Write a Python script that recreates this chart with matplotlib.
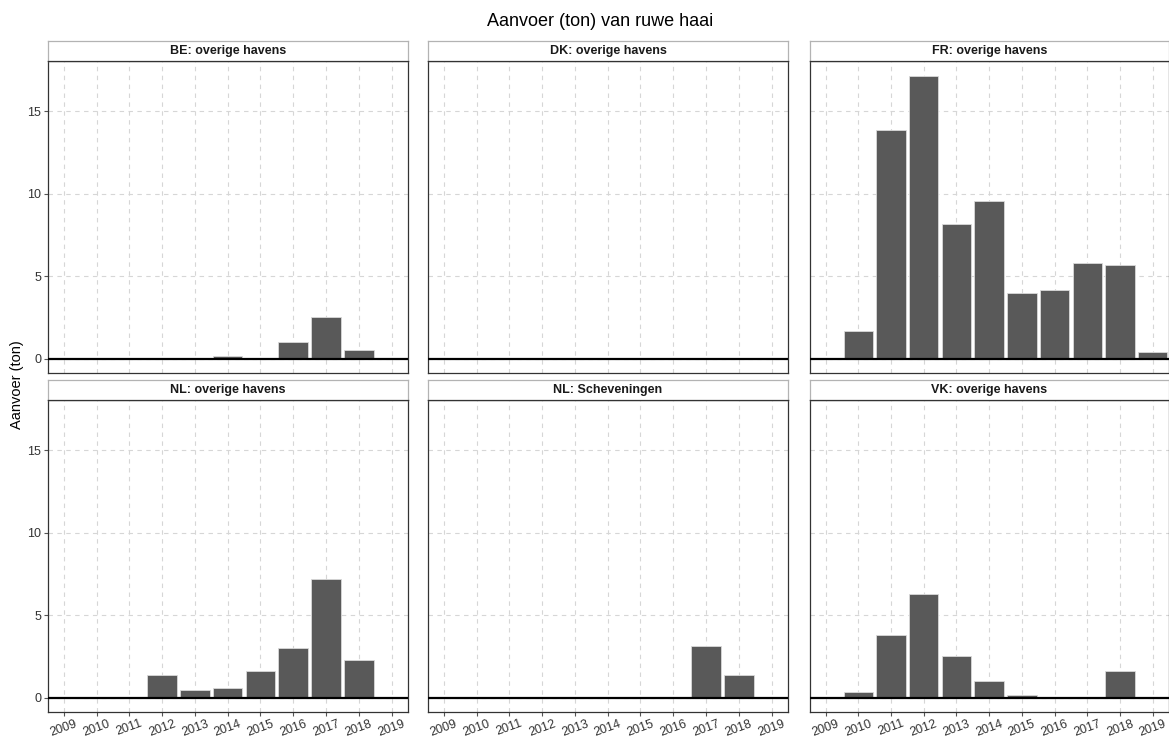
import numpy as np
import matplotlib
matplotlib.use("Agg")
from matplotlib import pyplot as plt

plt.rcParams["font.family"] = ["Liberation Sans", "DejaVu Sans"]

years = list(range(2009, 2020))

panels = [
    "BE: overige havens",
    "DK: overige havens",
    "FR: overige havens",
    "NL: overige havens",
    "NL: Scheveningen",
    "VK: overige havens",
]

# aanvoer (ton) per jaar, 0 = geen aanvoer
be_overig = [0, 0, 0, 0, 0, 0.15, 0, 1.0, 2.55, 0.55, 0]
dk_overig = [0, 0, 0, 0, 0, 0, 0, 0, 0, 0, 0]
fr_overig = [0, 1.71, 13.85, 17.16, 8.15, 9.6, 3.99, 4.19, 5.8, 5.7, 0.4]
nl_overig = [0, 0, 0, 1.4, 0.5, 0.57, 1.61, 3.03, 7.2, 2.32, 0]
nl_schev = [0, 0, 0, 0, 0, 0, 0, 0, 3.12, 1.41, 0]
vk_overig = [0, 0.35, 3.83, 6.29, 2.54, 1.03, 0.19, 0, 0, 1.61, 0]

values = [be_overig, dk_overig, fr_overig, nl_overig, nl_schev, vk_overig]

W, H = 1169, 740
fig = plt.figure(figsize=(W / 100, H / 100), dpi=100)

cols = [(48, 408), (428, 788), (810, 1169)]
rows = [(41, 61, 373), (380, 400, 712)]  # strip top, panel top, panel bottom


def frac(x0, y0, x1, y1):
    return [x0 / W, 1 - y1 / H, (x1 - x0) / W, (y1 - y0) / H]


for i, (name, vals) in enumerate(zip(panels, values)):
    r, c = divmod(i, 3)
    x0, x1 = cols[c]
    st, pt, pb = rows[r]

    ax = fig.add_axes(frac(x0, pt, x1, pb))
    v = np.array(vals)
    mask = v > 0
    ax.bar(np.array(years)[mask], v[mask], width=0.9, color="#595959",
           edgecolor="#d9d9d9", linewidth=0.6, zorder=3)
    ax.axhline(0, color="black", linewidth=1.6, zorder=4)
    ax.set_xlim(2008.52, 2019.5)
    ax.set_ylim(-0.86, 18.06)
    ax.set_xticks(years)
    ax.set_yticks([0, 5, 10, 15])
    ax.grid(True, color="#d6d6d6", linestyle=(0, (4, 4)), linewidth=0.8, zorder=0)
    for s in ax.spines.values():
        s.set_color("#333333")
        s.set_linewidth(0.9)
    ax.tick_params(axis="both", color="#555555", length=3, labelsize=9,
                   labelcolor="#333333", pad=2)
    if c == 0:
        ax.set_yticklabels(["0", "5", "10", "15"])
    else:
        ax.tick_params(axis="y", left=False, labelleft=False)
    if r == 1:
        ax.set_xticklabels([str(y) for y in years], rotation=20)
        ax.tick_params(axis="x", pad=1)
    else:
        ax.tick_params(axis="x", bottom=False, labelbottom=False)

    sax = fig.add_axes(frac(x0, st, x1, pt))
    sax.set_xticks([])
    sax.set_yticks([])
    for s in sax.spines.values():
        s.set_color("#b3b3b3")
        s.set_linewidth(0.9)
    sax.spines["bottom"].set_color("#333333")
    sax.set_facecolor("white")
    sax.text(0.5, 0.5, name, ha="center", va="center", fontsize=9,
             fontweight="bold", color="#1a1a1a", transform=sax.transAxes)

fig.text(600 / W, 1 - 21 / H, "Aanvoer (ton) van ruwe haai", ha="center",
         va="center", fontsize=13, color="black")
fig.text(17 / W, 1 - 385 / H, "Aanvoer (ton)", ha="center", va="center",
         rotation=90, fontsize=10.5, color="black")

fig.savefig("out.png", dpi=100)
